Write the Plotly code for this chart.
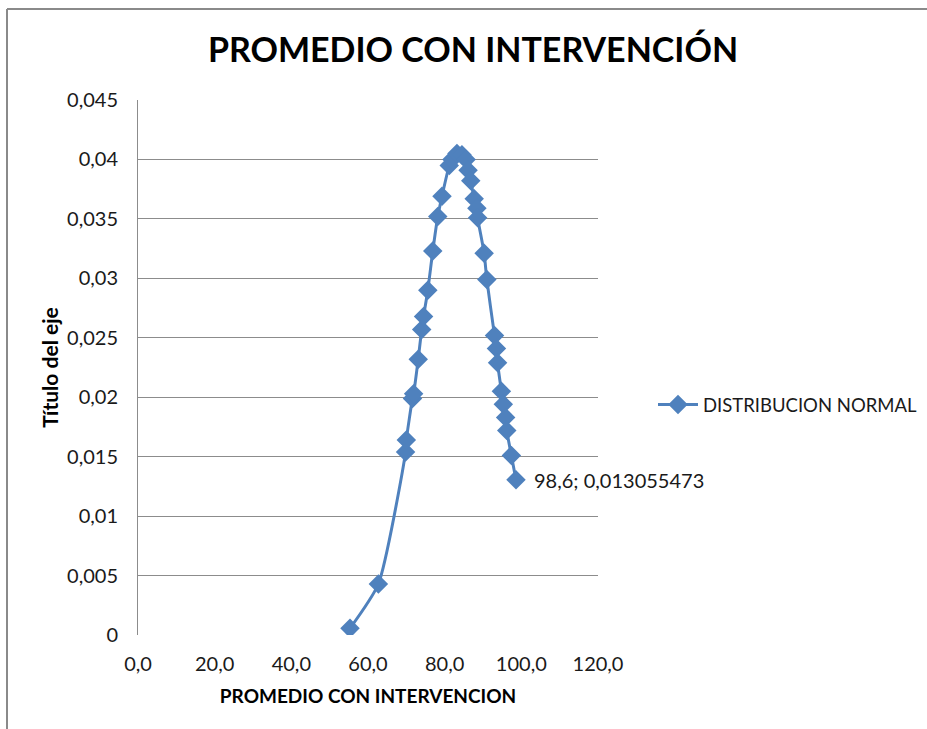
import plotly.graph_objects as go

# Data
promedio = [55.3, 62.7, 69.8, 70.0, 71.6, 71.9, 73.1, 74.0, 74.5, 75.6, 76.9, 78.2,
            79.3, 81.2, 81.9, 83.2, 84.5, 85.6, 86.1, 86.8, 87.7, 88.4, 88.6, 90.3,
            91.0, 93.0, 93.5, 93.8, 94.8, 95.3, 95.9, 96.2, 97.4, 98.6]
densidad = [0.00056, 0.00429, 0.0154, 0.0164, 0.0199, 0.0203, 0.0232, 0.0257, 0.0268,
            0.0290, 0.0323, 0.0352, 0.0369, 0.0395, 0.0400, 0.0405, 0.0404, 0.0400,
            0.0391, 0.0382, 0.0367, 0.0359, 0.0351, 0.0321, 0.0299, 0.0252, 0.0241,
            0.0229, 0.0205, 0.0194, 0.0183, 0.0172, 0.0151, 0.013055473]

y_tickvals = [0, 0.005, 0.01, 0.015, 0.02, 0.025, 0.03, 0.035, 0.04, 0.045]
y_ticktext = ["0", "0,005", "0,01", "0,015", "0,02", "0,025", "0,03", "0,035", "0,04", "0,045"]
x_tickvals = [0, 20, 40, 60, 80, 100, 120]

series_name = "DISTRIBUCION NORMAL"
label_text = "98,6; 0,013055473"

BLUE = "#4F81BD"
GRID = "#8C8C8C"
FONT = "Lato"
TXT = "#1a1a1a"

W, H = 927, 729
L, R, T, B = 138, 927 - 598, 100, 729 - 635
pw, ph = W - L - R, H - T - B

fig = go.Figure()
fig.add_trace(go.Scatter(
    x=promedio, y=densidad, mode="lines+markers", name=series_name,
    line=dict(color=BLUE, width=3, shape="spline", smoothing=0.6),
    marker=dict(symbol="diamond", size=15, color=BLUE),
))

fig.add_annotation(
    x=promedio[-1], y=densidad[-1], text=label_text, showarrow=False,
    xanchor="left", yanchor="middle", xshift=16,
    font=dict(family=FONT, size=20, color=TXT),
)

# Chart border (left and top visible)
fig.add_shape(type="line", xref="paper", yref="paper",
              x0=(7 - L) / pw, x1=(7 - L) / pw, y0=(635 - 740) / ph, y1=(635 - 9) / ph,
              line=dict(color="#8a8a8a", width=2))
fig.add_shape(type="line", xref="paper", yref="paper",
              x0=(7 - L) / pw, x1=(940 - L) / pw, y0=(635 - 9) / ph, y1=(635 - 9) / ph,
              line=dict(color="#8a8a8a", width=2))

fig.update_layout(
    width=W, height=H,
    margin=dict(l=L, r=R, t=T, b=B, autoexpand=False),
    paper_bgcolor="white", plot_bgcolor="white",
    separators=",.",
    title=dict(text="<b>PROMEDIO CON INTERVENCIÓN</b>", x=473 / W, xanchor="center",
               y=1 - 50 / H, yanchor="middle",
               font=dict(family=FONT, size=34, color="#000000")),
    font=dict(family=FONT, color=TXT),
    showlegend=True,
    legend=dict(x=(653 - L) / pw, xanchor="left", y=(635 - 405) / ph, yanchor="middle",
                font=dict(family=FONT, size=18.5, color=TXT),
                bgcolor="rgba(0,0,0,0)", itemwidth=40),
    xaxis=dict(range=[0, 120], tickvals=x_tickvals, tickformat=".1f",
               showgrid=False, zeroline=False, showline=False,
               ticks="outside", ticklen=11, tickcolor="rgba(0,0,0,0)",
               tickfont=dict(family=FONT, size=20, color=TXT),
               title=dict(text="<b>PROMEDIO CON INTERVENCION</b>", standoff=15,
                          font=dict(family=FONT, size=19, color="#000000"))),
    yaxis=dict(range=[0, 0.045], tickvals=y_tickvals, ticktext=y_ticktext,
               showgrid=True, gridcolor=GRID, gridwidth=1, zeroline=False,
               showline=True, linecolor=GRID, linewidth=1,
               ticks="outside", ticklen=15, tickcolor="rgba(0,0,0,0)",
               tickfont=dict(family=FONT, size=20, color=TXT),
               title=dict(text="<b>Título del eje</b>", standoff=2,
                          font=dict(family=FONT, size=21, color="#000000"))),
)

fig.write_html("out.html", config={"displayModeBar": False},
               post_script="document.body.style.margin='0';")
